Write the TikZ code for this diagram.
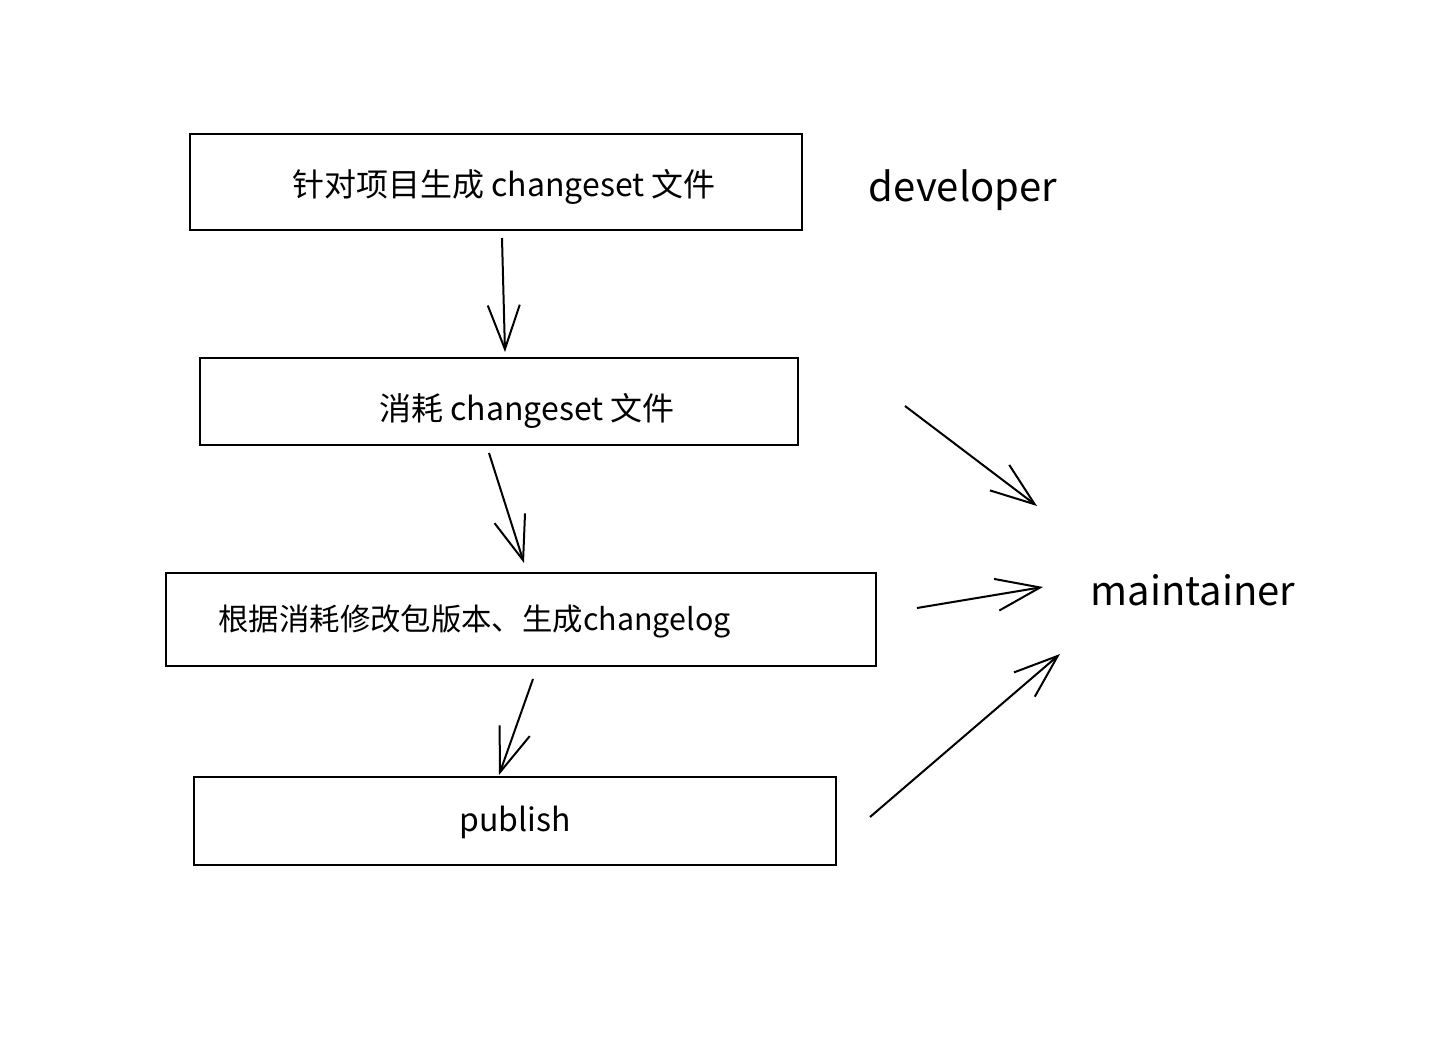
\documentclass[tikz,border=0pt]{standalone}
\usepackage{fontspec}
\setmainfont{Noto Sans CJK SC}
\usetikzlibrary{arrows.meta}
\begin{document}
\begin{tikzpicture}[x=0.5pt,y=-0.5pt,
		stepbox/.style={draw, line width=1pt, inner sep=0pt},
		boxtext/.style={font=\fontsize{16}{18}\selectfont, inner sep=0pt},
		role/.style={font=\fontsize{20}{22}\selectfont, inner sep=0pt},
		flow/.style={line width=1pt, -{Straight Barb[length=22pt, width=16pt, line width=1pt]}}]
			\useasboundingbox (0,0) rectangle (1442,1038);

			% steps
			\draw node[stepbox, minimum width=306pt, minimum height=48pt] (b1) at (496,182) {};
			\draw node[stepbox, minimum width=299pt, minimum height=43.5pt] (b2) at (499,401.5) {};
			\draw node[stepbox, minimum width=355pt, minimum height=46.5pt] (b3) at (521,619.5) {};
			\draw node[stepbox, minimum width=321pt, minimum height=44pt] (b4) at (515,821) {};

			\draw node[boxtext] (t1) at (504,187) {针对项目生成 changeset 文件};
			\draw node[boxtext] (t2) at (527,411) {消耗 changeset 文件};
			\draw node[boxtext, font=\fontsize{15.2}{18}\selectfont, anchor=west] (t3) at (218,621) {根据消耗修改包版本、生成changelog};
			\draw node[boxtext] (t4) at (515,822) {publish};

			% roles
			\draw node[role] (dev) at (963,190) {developer};
			\draw node[role] (mnt) at (1193,590) {maintainer};

			\coordinate (s1) at (502,238);  \coordinate (e1) at (505,352);
			\coordinate (s2) at (489,453);  \coordinate (e2) at (524,563);
			\coordinate (s3) at (533,679);  \coordinate (e3) at (499,775);
			\coordinate (s4) at (905,406);  \coordinate (e4) at (1037,506);
			\coordinate (s5) at (917,608);  \coordinate (e5) at (1043,587);
			\coordinate (s6) at (870,817);  \coordinate (e6) at (1060,654);

			\draw[flow] (s1) -- (e1);
			\draw[flow] (s2) -- (e2);
			\draw[flow] (s3) -- (e3);
			\draw[flow] (s4) -- (e4);
			\draw[flow] (s5) -- (e5);
			\draw[flow] (s6) -- (e6);
		\end{tikzpicture}
\end{document}
